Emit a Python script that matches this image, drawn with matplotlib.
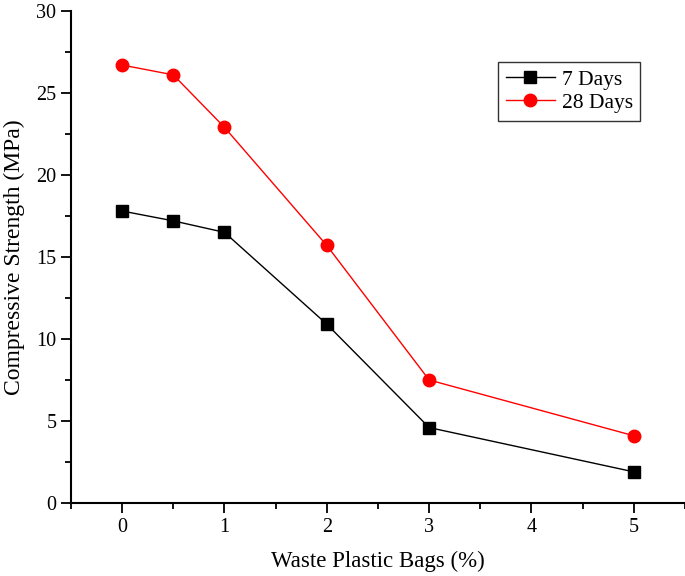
import matplotlib
matplotlib.use("Agg")
import matplotlib.pyplot as plt
from matplotlib.ticker import MultipleLocator

plastic = [0, 0.5, 1, 2, 3, 5]
days7 = [17.8, 17.2, 16.5, 10.9, 4.6, 1.9]
days28 = [26.7, 26.1, 22.9, 15.7, 7.5, 4.1]

plt.rcParams['font.family'] = ['Liberation Serif', 'DejaVu Serif']

fig = plt.figure(figsize=(6.85, 5.76), dpi=100)
ax = fig.add_axes([0.1036, 0.1267, 0.8964, 0.8544])

ax.plot(plastic, days7, color='black', linewidth=1, marker='s', markersize=8, label='7 Days')
ax.plot(plastic, days28, color='red', linewidth=1, marker='o', markersize=9, label='28 Days')

ax.set_xlim(-0.5, 5.5)
ax.set_ylim(0, 30)
ax.xaxis.set_major_locator(MultipleLocator(1))
ax.xaxis.set_minor_locator(MultipleLocator(0.5))
ax.yaxis.set_major_locator(MultipleLocator(5))
ax.yaxis.set_minor_locator(MultipleLocator(2.5))

ax.spines['top'].set_visible(False)
ax.spines['right'].set_visible(False)
ax.spines['left'].set_linewidth(1.5)
ax.spines['bottom'].set_linewidth(1.5)
ax.tick_params(which='major', direction='out', length=7, width=1.3, labelsize=14.5)
ax.tick_params(which='minor', direction='out', length=4.5, width=1.3)

ax.set_xlabel("Waste Plastic Bags (%)", fontsize=16.5, labelpad=10)
ax.set_ylabel("Compressive Strength (MPa)", fontsize=17, labelpad=8)

leg = ax.legend(loc='upper right', bbox_to_anchor=(0.927, 0.896), fontsize=15.5,
                frameon=True, fancybox=False, edgecolor='black', handlelength=2.3,
                borderpad=0.35, labelspacing=0.15, handletextpad=0.3,
                borderaxespad=0)
leg.get_frame().set_linewidth(1)

fig.savefig("out.png", dpi=100)
